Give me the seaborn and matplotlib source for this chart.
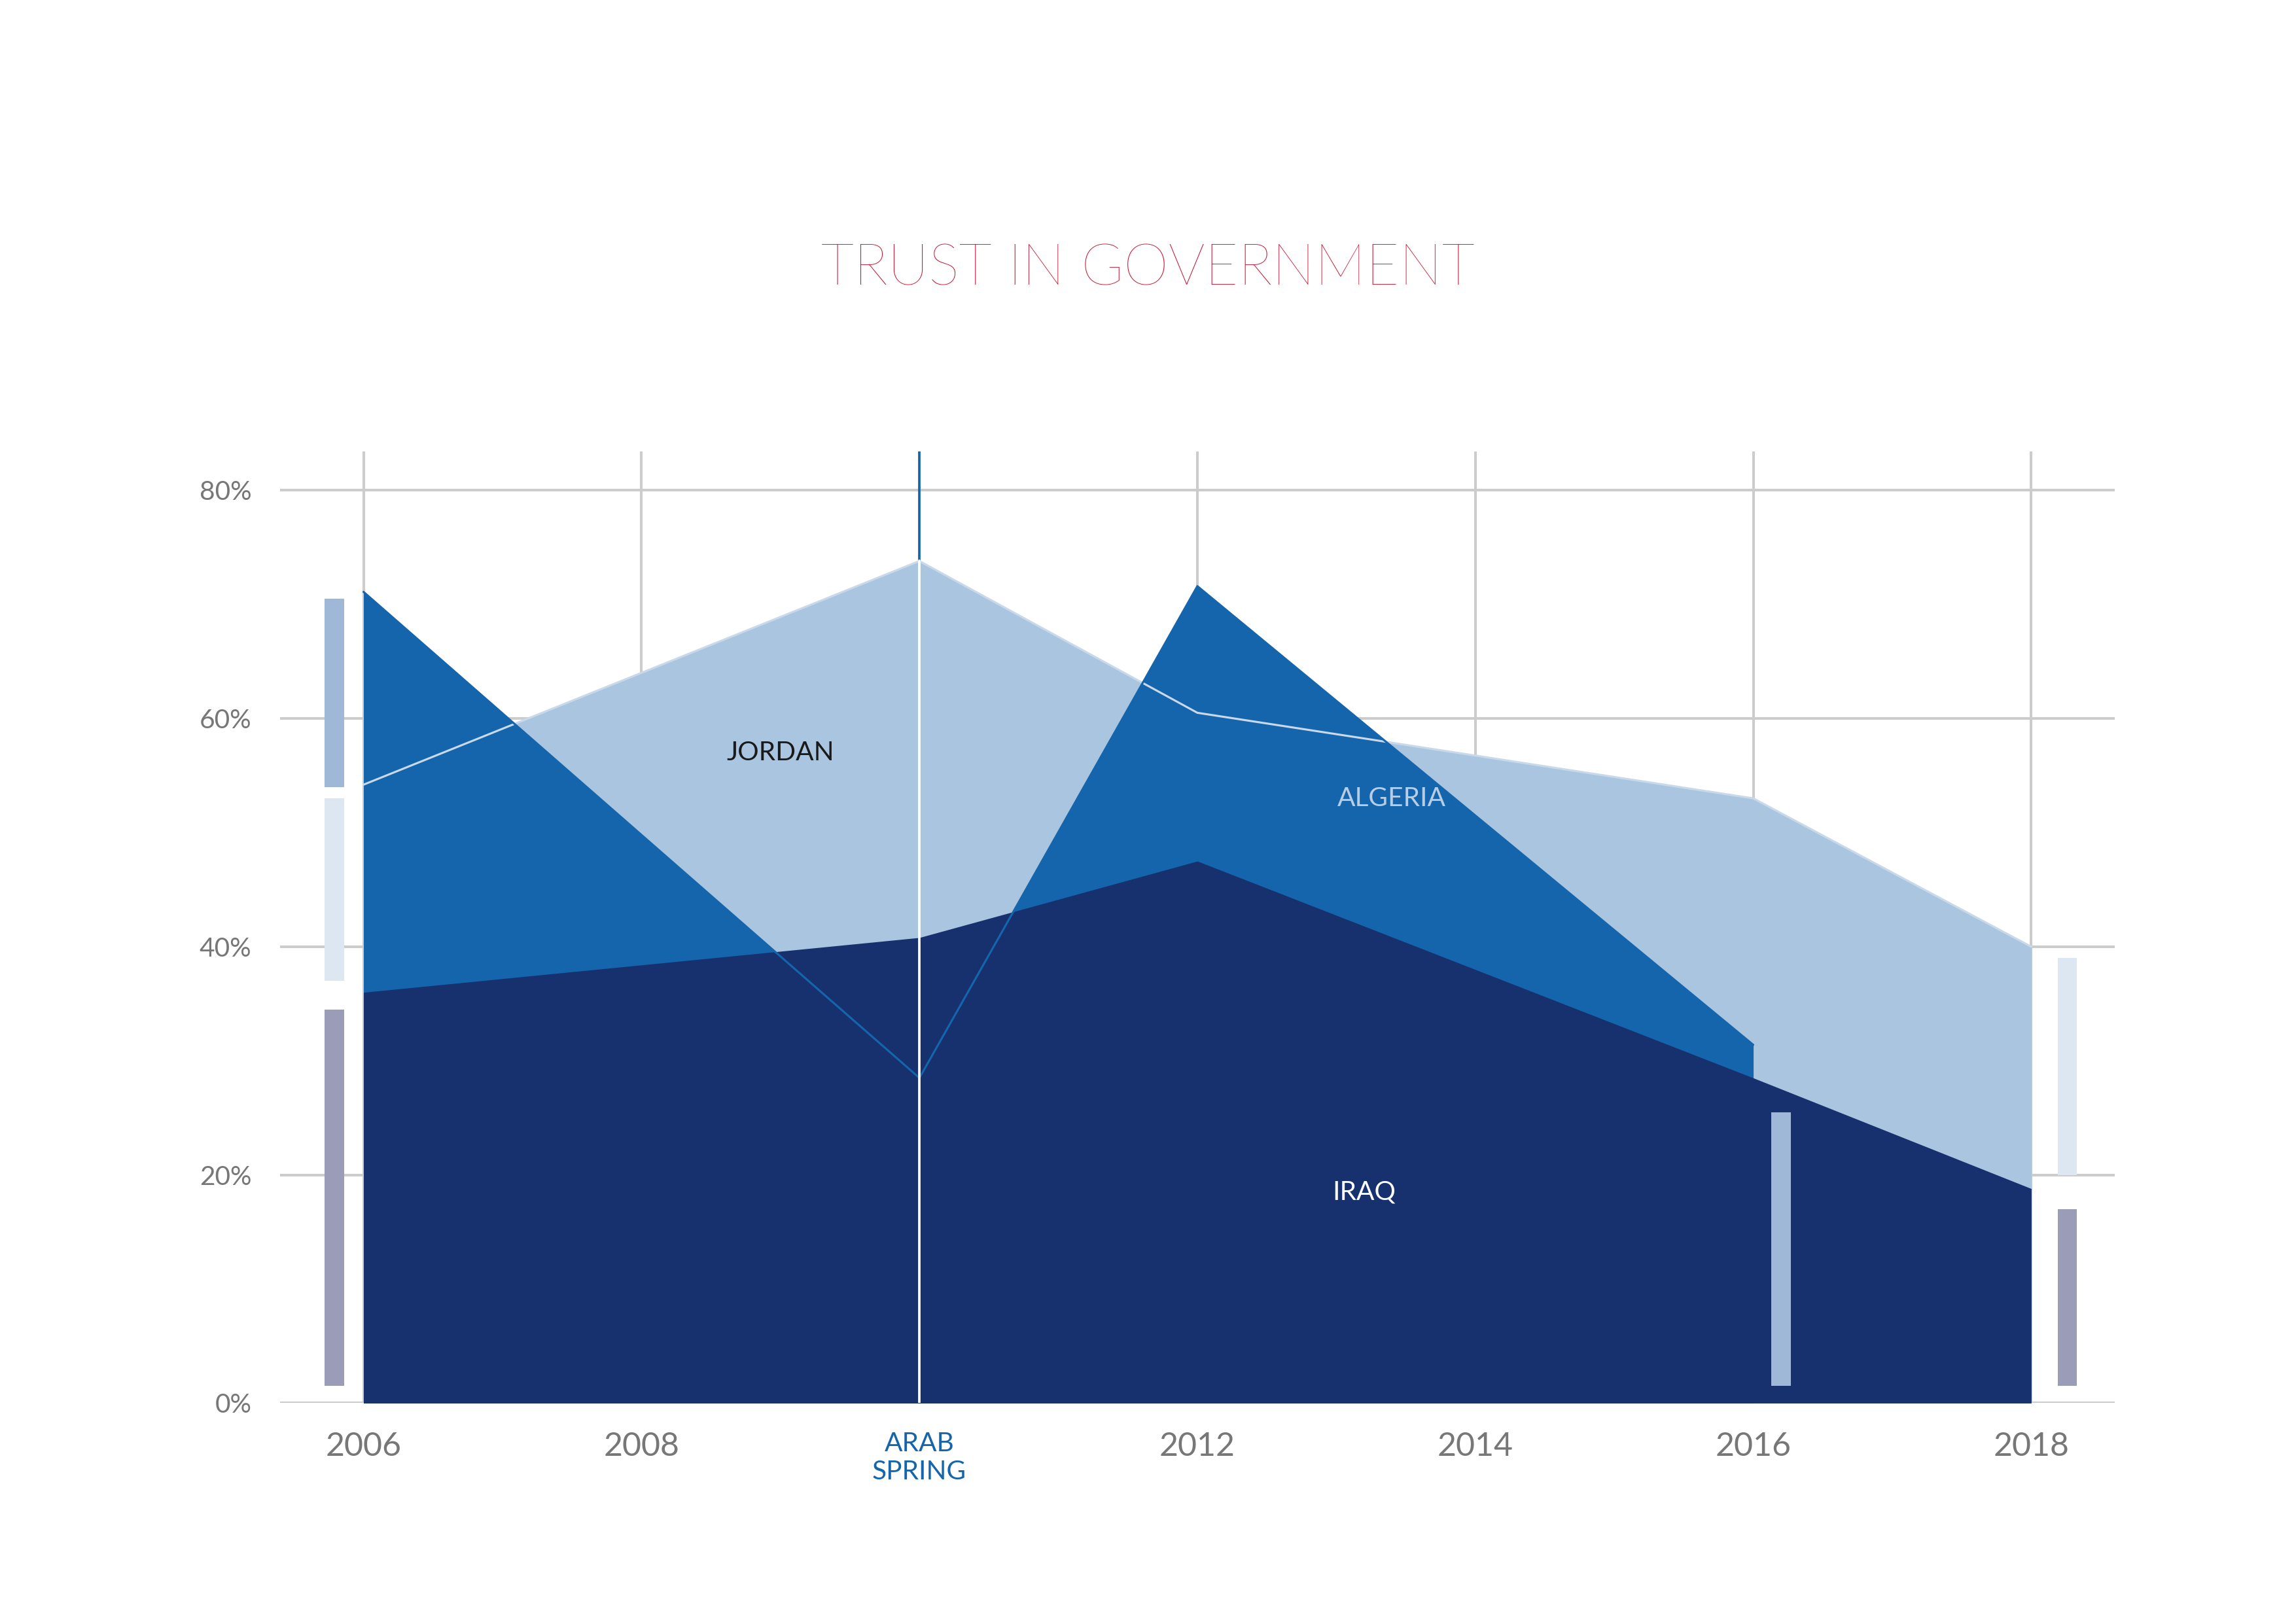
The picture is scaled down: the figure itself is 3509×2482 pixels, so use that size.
import matplotlib
matplotlib.use("Agg")
import matplotlib.pyplot as plt
import seaborn as sns
import pandas as pd

sns.set_theme(style="white")
plt.rcParams['font.family'] = ['Lato', 'DejaVu Sans']

jordan_years = [2006, 2010, 2012, 2016, 2018]
jordan_vals = [54.2, 73.8, 60.5, 53.0, 40.0]
algeria_years = [2006, 2010, 2012, 2016]
algeria_vals = [71.1, 28.5, 71.6, 31.4]
iraq_years = [2006, 2010, 2012, 2016, 2018]
iraq_vals = [36.0, 40.8, 47.5, 28.5, 18.8]
x_ticks = [2006, 2008, 2010, 2012, 2014, 2016, 2018]
x_labels = ["2006", "2008", "ARAB\nSPRING", "2012", "2014", "2016", "2018"]
y_ticks = [0, 20, 40, 60, 80]
y_labels = ["0%", "20%", "40%", "60%", "80%"]
# side bars: (x, bottom, top, color)
side_bars = [(2005.79, 1.5, 34.5, "#9b9db8"), (2005.79, 37.0, 53.0, "#dde7f2"),
             (2005.79, 54.0, 70.5, "#9fb8d8"), (2016.2, 1.5, 25.5, "#9fb8d8"),
             (2018.26, 1.5, 17.0, "#9b9db8"), (2018.26, 20.0, 39.0, "#dde7f2")]

C_J, C_A, C_I = "#a9c5df", "#1565ad", "#16316d"

fig = plt.figure(figsize=(3509/225, 2482/225), dpi=225)
ax = fig.add_axes([0.122, 0.136, 0.799, 0.586])
ax.set_xlim(2005.4, 2018.6)
ax.set_ylim(0, 83.4)

for x in x_ticks:
    if x != 2010:
        ax.axvline(x, color="#cccccc", lw=1.3, zorder=0)
for y in y_ticks:
    ax.axhline(y, color="#cccccc", lw=1.3, zorder=0)

ax.fill_between(jordan_years, jordan_vals, color=C_J, lw=0, zorder=1)
ax.fill_between(algeria_years, algeria_vals, color=C_A, lw=0, zorder=2)
ax.fill_between(iraq_years, iraq_vals, color=C_I, lw=0, zorder=3)
dfj = pd.DataFrame({"year": jordan_years, "v": jordan_vals})
dfa = pd.DataFrame({"year": algeria_years, "v": algeria_vals})
sns.lineplot(data=dfj, x="year", y="v", ax=ax, color="#c9d9ea", lw=1.0, zorder=4)
sns.lineplot(data=dfa, x="year", y="v", ax=ax, color=C_A, lw=1.0, zorder=4)

ax.plot([2010, 2010], [73.8, 83.4], color=C_A, lw=1.2, zorder=5)
ax.plot([2010, 2010], [0, 73.8], color="white", lw=1.2, zorder=5)

for x, b, t, c in side_bars:
    ax.bar(x, t - b, bottom=b, width=0.14, color=c, lw=0, zorder=6)

ax.text(2009.0, 57, "JORDAN", color="#1a1a1a", fontsize=13, ha="center", va="center", zorder=7)
ax.text(2013.4, 53, "ALGERIA", color="#b6cde4", fontsize=13, ha="center", va="center", zorder=7)
ax.text(2013.2, 18.5, "IRAQ", color="white", fontsize=13, ha="center", va="center", zorder=7)

for s in ax.spines.values():
    s.set_visible(False)
ax.set_xlabel(""); ax.set_ylabel("")
ax.set_xticks(x_ticks)
ax.set_xticklabels(x_labels, fontsize=16, color="#777777")
for lab in ax.get_xticklabels():
    if "ARAB" in lab.get_text():
        lab.set_color(C_A); lab.set_fontsize(13)
ax.set_yticks(y_ticks)
ax.set_yticklabels(y_labels, fontsize=13, color="#777777")
ax.tick_params(axis="x", length=0, pad=14)
ax.tick_params(axis="y", length=0, pad=14)

fig.text(0.5, 0.834, "TRUST IN GOVERNMENT", color="#c8102e", fontsize=28,
         ha="center", va="center", fontweight="light")

fig.savefig("out.png", dpi=225, facecolor="white")
